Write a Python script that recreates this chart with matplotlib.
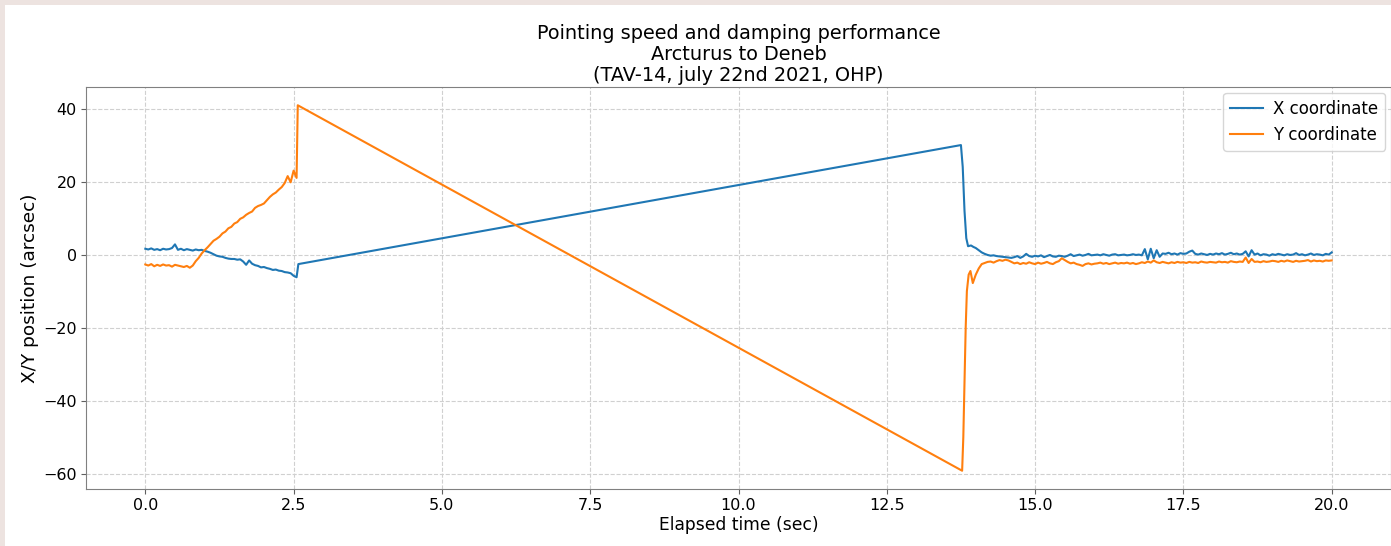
import numpy as np
import matplotlib
matplotlib.use('Agg')
import matplotlib.pyplot as plt
from matplotlib.patches import Rectangle

# settling before slew, sampled every 0.05 s from t = 0
x_before = [1.6, 1.4, 1.7, 1.3, 1.5, 1.2, 1.6, 1.4, 1.5, 1.8,
            2.8, 1.3, 1.6, 1.2, 1.5, 1.3, 1.1, 1.4, 1.2, 1.3,
            1.0, 0.8, 0.5, 0.1, -0.3, -0.5, -0.6, -0.9, -1.1, -1.2,
            -1.2, -1.4, -1.3, -1.9, -2.8, -1.6, -2.5, -2.9, -3.1, -3.5,
            -3.4, -3.7, -3.9, -4.2, -4.1, -4.4, -4.5, -4.8, -4.9, -5.1,
            -5.8, -6.2]
y_before = [-2.7, -3.0, -2.6, -3.2, -2.8, -3.1, -2.7, -3.0, -2.9, -3.3,
            -2.8, -3.0, -3.2, -3.4, -3.1, -3.6, -3.0, -1.8, -0.9, 0.3,
            1.2, 2.0, 2.9, 3.8, 4.3, 4.9, 5.8, 6.3, 7.2, 7.6,
            8.5, 8.9, 9.8, 10.2, 10.9, 11.4, 11.8, 12.8, 13.3, 13.6,
            14.0, 14.9, 15.8, 16.5, 17.0, 17.8, 18.5, 19.6, 21.5, 19.8,
            23.0, 21.0]
t_before = np.arange(len(x_before)) * 0.05

# slew and damping transient
t_x_slew = [2.58, 13.75, 13.78, 13.81, 13.84, 13.87, 13.92, 13.96]
x_slew = [-2.6, 30.0, 24.0, 12.0, 4.5, 2.3, 2.5, 2.1]
t_y_slew = [2.57, 13.77, 13.79, 13.81, 13.83, 13.85, 13.88, 13.91, 13.95]
y_slew = [40.9, -59.2, -50.0, -35.0, -20.0, -10.0, -5.5, -4.5, -7.8]

# tracking after slew, sampled every 0.05 s from t = 14
x_after = [1.8, 1.2, 0.6, 0.2, -0.1, -0.3, -0.2, -0.4, -0.5, -0.6, -0.7,
           -0.8, -0.9, -0.7, -0.4, -0.9, -0.5, 0.2, -0.4, -0.6, -0.3,
           -0.5, -0.2, -0.7, -0.4, -0.1, -0.5, -0.6, -0.3, -0.4, -0.6,
           -0.3, 0.1, -0.4, -0.2, 0.0, -0.3, -0.1, 0.2, -0.2, -0.1,
           0.0, -0.2, 0.1, -0.1, -0.3, 0.0, 0.1, -0.2, -0.1, 0.0,
           -0.2, -0.1, 0.1, -0.1, 0.0, -0.2, 1.5, -1.3, 1.6, -1.0,
           1.2, -0.6, 0.3, 0.2, 0.5, 0.1, 0.3, 0.0, 0.4, 0.2,
           0.3, 0.8, 1.1, 0.2, 0.0, 0.3, 0.1, -0.1, 0.2, 0.0,
           0.3, 0.1, 0.4, 0.0, 0.2, 0.5, 0.1, 0.3, 0.0, 0.2,
           0.9, -0.5, 1.2, 0.0, 0.3, -0.2, 0.1, 0.0, -0.3, 0.1,
           -0.1, 0.2, 0.0, -0.2, 0.1, -0.1, 0.0, 0.4, -0.1, 0.1,
           -0.2, 0.0, 0.3, -0.1, 0.1, 0.0, -0.2, 0.2, 0.0, 0.6]
y_after = [-5.5, -3.8, -2.6, -2.3, -2.0, -1.9, -2.2, -1.8, -1.5, -1.7, -1.4,
           -1.6, -2.0, -2.4, -2.2, -2.6, -2.3, -2.5, -2.1, -2.4, -2.6,
           -2.2, -2.5, -2.3, -2.0, -2.4, -2.6, -2.1, -1.8, -1.0, -1.5,
           -2.0, -2.4, -2.2, -2.6, -2.8, -3.1, -2.6, -2.4, -2.7, -2.5,
           -2.4, -2.2, -2.5, -2.3, -2.6, -2.4, -2.2, -2.5, -2.3, -2.4,
           -2.2, -2.5, -2.3, -2.6, -2.4, -2.1, -2.3, -1.9, -2.2, -1.6,
           -2.1, -2.3, -2.0, -2.2, -2.4, -2.1, -2.3, -2.0, -2.2, -2.1,
           -2.3, -2.0, -2.2, -2.1, -2.3, -1.9, -2.1, -2.2, -2.0, -2.1,
           -2.2, -1.9, -2.1, -2.0, -2.2, -1.8, -2.0, -2.1, -1.9, -2.0,
           -0.8, -2.3, -1.2, -2.0, -1.9, -2.1, -1.8, -2.0, -1.9, -1.7,
           -1.8, -2.0, -1.7, -1.9, -1.6, -1.8, -2.0, -1.7, -1.9, -1.8,
           -1.7, -1.5, -1.9, -1.6, -1.8, -1.7, -1.9, -1.6, -1.7, -1.6]
t_after = 14.0 + np.arange(len(x_after)) * 0.05

t_x = np.concatenate([t_before, t_x_slew, t_after])
x_pos = np.concatenate([x_before, x_slew, x_after])
t_y = np.concatenate([t_before, t_y_slew, t_after])
y_pos = np.concatenate([y_before, y_slew, y_after])

plt.rcParams['font.family'] = 'DejaVu Sans'
plt.rcParams['font.size'] = 12

fig = plt.figure(figsize=(13.91, 5.46), dpi=100, facecolor='#ede3e0')
fig.patches.append(Rectangle((5 / 1391, 0), 1, 1 - 5 / 546, transform=fig.transFigure,
                             facecolor='white', edgecolor='none', zorder=-1))
ax = fig.add_axes([86 / 1391, 1 - 489 / 546, 1 - 86 / 1391, (489 - 87) / 546])

ax.plot(t_x, x_pos, label='X coordinate')
ax.plot(t_y, y_pos, label='Y coordinate')
ax.grid(True, linestyle='--', color='#d0d0d0', linewidth=0.8)
for s in ax.spines.values():
    s.set_color('#808080')
ax.tick_params(color='#606060', labelsize=11.5, pad=3)
ax.set_xlabel('Elapsed time (sec)', fontsize=12.3, labelpad=2)
ax.set_ylabel('X/Y position (arcsec)', fontsize=13.3, labelpad=3)
ax.set_title('Pointing speed and damping performance\nArcturus to Deneb\n(TAV-14, july 22nd 2021, OHP)',
             fontsize=13.9, linespacing=1.15, pad=4)
ax.legend(loc='upper right', fontsize=12, borderaxespad=0.35, handletextpad=0.6)

fig.savefig('out.png', dpi=100, facecolor=fig.get_facecolor())
